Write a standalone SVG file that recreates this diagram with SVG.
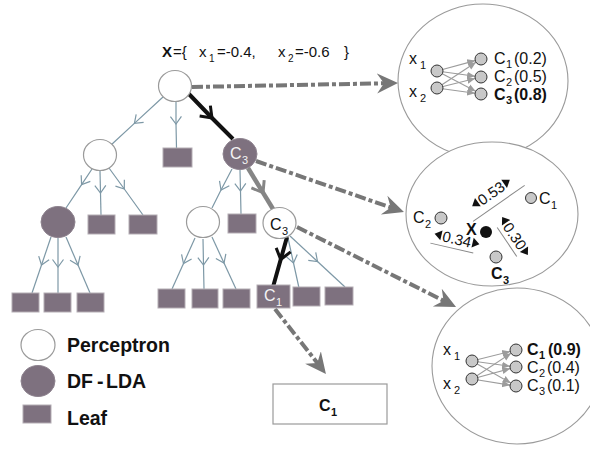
<svg xmlns="http://www.w3.org/2000/svg" width="590" height="449" viewBox="0 0 590 449">
  <style>
    text { font-family: "Liberation Sans", Arial, sans-serif; fill: #111; }
    .b { font-weight: bold; }
    .sub { font-size: 11px; }
    .perc { fill: #fff; stroke: #9a9a9a; stroke-width: 1.2; }
    .lda { fill: #7e717f; stroke: #8e838f; stroke-width: 1; }
    .leaf { fill: #7e717f; stroke: #b4adb4; stroke-width: 1; }
    .edge { fill: none; stroke: #7d98a6; stroke-width: 1.2; marker-mid: url(#chev); }
    .path-blk { fill: none; stroke: #111; stroke-width: 4; marker-mid: url(#chevBlk); }
    .path-gry { fill: none; stroke: #858585; stroke-width: 4.5; marker-mid: url(#chevGry); }
    .dd { fill: none; stroke: #777; stroke-width: 4; stroke-dasharray: 11 3 4 3; marker-end: url(#ddHead); }
    .bubble { fill: #fff; stroke: #9a9a9a; stroke-width: 1.1; }
    .unit { fill: #c8c8c8; stroke: #333; stroke-width: 1; }
    .net { stroke: #9c9c9c; stroke-width: 1.1; fill: none; marker-end: url(#netHead); }
    .dist { stroke: #888; stroke-width: 1; fill: none; }
    .tri { fill: #111; }
    .wt { fill: #f4f4f4; }
  </style>
  <defs>
    <marker id="chev" markerUnits="userSpaceOnUse" viewBox="0 0 20 20" markerWidth="20" markerHeight="20" refX="10" refY="10" orient="auto">
      <path d="M2.5,4.5 L10,10 L2.5,15.5" fill="none" stroke="#7d98a6" stroke-width="1.2"/>
    </marker>
    <marker id="chevBlk" markerUnits="userSpaceOnUse" viewBox="0 0 24 24" markerWidth="24" markerHeight="24" refX="12" refY="12" orient="auto">
      <path d="M2,4.5 L12,12 L2,19.5" fill="none" stroke="#111" stroke-width="3"/>
    </marker>
    <marker id="chevGry" markerUnits="userSpaceOnUse" viewBox="0 0 24 24" markerWidth="24" markerHeight="24" refX="12" refY="12" orient="auto">
      <path d="M2,4.5 L12,12 L2,19.5" fill="none" stroke="#858585" stroke-width="3"/>
    </marker>
    <marker id="ddHead" markerUnits="userSpaceOnUse" viewBox="0 0 26 26" markerWidth="26" markerHeight="26" refX="13" refY="13" orient="auto">
      <path d="M0,3 L21,13 L0,23 L7,13 Z" fill="#777"/>
    </marker>
    <marker id="netHead" markerUnits="userSpaceOnUse" viewBox="0 0 10 10" markerWidth="10" markerHeight="10" refX="8" refY="5" orient="auto">
      <path d="M0,1.5 L8,5 L0,8.5 Z" fill="#9c9c9c"/>
    </marker>
  </defs>

  <!-- input vector -->
  <g id="input-vector">
    <text x="162" y="57" font-size="15" class="b">X</text>
    <text x="173" y="57" font-size="15">={</text>
    <text x="199" y="57" font-size="15">x</text>
    <text x="209" y="62" font-size="10">1</text>
    <text x="217" y="57" font-size="15">=-0.4,</text>
    <text x="278" y="57" font-size="15">x</text>
    <text x="288" y="62" font-size="10">2</text>
    <text x="295" y="57" font-size="15">=-0.6</text>
    <text x="344" y="57" font-size="15">}</text>
  </g>

  <!-- detail bubble: perceptron at the root -->
  <g id="bubble-root">
    <ellipse class="bubble" cx="483" cy="81" rx="85" ry="77"/>
    <path class="net" d="M437,71 L475.2,60.6"/>
    <path class="net" d="M437,71 L475.1,76.2"/>
    <path class="net" d="M437,71 L475.7,91.2"/>
    <path class="net" d="M437,88 L476,62.3"/>
    <path class="net" d="M437,88 L475.2,78.5"/>
    <path class="net" d="M437,88 L475.1,93.2"/>
    <circle class="unit" cx="437" cy="71" r="6"/>
    <circle class="unit" cx="437" cy="88" r="6"/>
    <circle class="unit" cx="481" cy="59" r="6"/>
    <circle class="unit" cx="481" cy="77" r="6"/>
    <circle class="unit" cx="481" cy="94" r="6"/>
    <text x="409" y="64" font-size="16">x</text>
    <text x="420" y="69" class="sub">1</text>
    <text x="409" y="97" font-size="16">x</text>
    <text x="420" y="102" class="sub">2</text>
    <text x="494" y="64" font-size="16">C</text>
    <text x="506" y="68" class="sub">1</text>
    <text x="514" y="64" font-size="16">(0.2)</text>
    <text x="494" y="82" font-size="16">C</text>
    <text x="506" y="86" class="sub">2</text>
    <text x="514" y="82" font-size="16">(0.5)</text>
    <text x="494" y="100" font-size="16" class="b">C</text>
    <text x="506" y="104" class="sub b">3</text>
    <text x="514" y="100" font-size="16" class="b">(0.8)</text>
  </g>

  <!-- detail bubble: DF-LDA distances -->
  <g id="bubble-lda">
    <ellipse class="bubble" cx="492" cy="214" rx="86" ry="72"/>
    <circle class="unit" cx="531" cy="198" r="5.5"/>
    <text x="539" y="204" font-size="16">C</text>
    <text x="551" y="209" class="sub">1</text>
    <circle class="unit" cx="441" cy="218" r="6"/>
    <text x="413" y="223" font-size="16">C</text>
    <text x="425" y="228" class="sub">2</text>
    <circle cx="486" cy="232" r="6" fill="#111"/>
    <text x="466" y="235" font-size="16" class="b">X</text>
    <circle class="unit" cx="496" cy="257" r="6"/>
    <text x="491" y="279" font-size="16" class="b">C</text>
    <text x="503" y="284" class="sub b">3</text>
    <g transform="translate(491,193) rotate(-35)">
      <polygon class="tri" points="-23,0 -16,-5 -16,5"/>
      <text x="0" y="5.5" font-size="15" text-anchor="middle">0.53</text>
      <polygon class="tri" points="23,0 16,-5 16,5"/>
      <line class="dist" x1="-31" y1="13" x2="32" y2="13"/>
    </g>
    <g transform="translate(457,239) rotate(13)">
      <polygon class="tri" points="-23,0 -16,-5 -16,5"/>
      <text x="0" y="5.5" font-size="15" text-anchor="middle">0.34</text>
      <polygon class="tri" points="23,0 16,-5 16,5"/>
      <line class="dist" x1="-25" y1="10" x2="19" y2="10"/>
    </g>
    <g transform="translate(515,236) rotate(56)">
      <polygon class="tri" points="-23,0 -16,-5 -16,5"/>
      <text x="0" y="5.5" font-size="15" text-anchor="middle">0.30</text>
      <polygon class="tri" points="23,0 16,-5 16,5"/>
      <line class="dist" x1="-17" y1="10" x2="18" y2="10"/>
    </g>
  </g>

  <!-- detail bubble: perceptron under C3 -->
  <g id="bubble-c3">
    <ellipse class="bubble" cx="517" cy="366" rx="85" ry="78"/>
    <path class="net" d="M472,361 L510.2,351.5"/>
    <path class="net" d="M472,361 L510.1,366.2"/>
    <path class="net" d="M472,361 L510.8,383"/>
    <path class="net" d="M472,379 L511,353.3"/>
    <path class="net" d="M472,379 L510.2,368.6"/>
    <path class="net" d="M472,379 L510.1,385.1"/>
    <circle class="unit" cx="472" cy="361" r="6"/>
    <circle class="unit" cx="472" cy="379" r="6"/>
    <circle class="unit" cx="516" cy="350" r="6"/>
    <circle class="unit" cx="516" cy="367" r="6"/>
    <circle class="unit" cx="516" cy="386" r="6"/>
    <text x="443" y="355" font-size="16">x</text>
    <text x="454" y="360" class="sub">1</text>
    <text x="443" y="389" font-size="16">x</text>
    <text x="454" y="394" class="sub">2</text>
    <text x="527" y="355" font-size="16" class="b">C</text>
    <text x="539" y="359" class="sub b">1</text>
    <text x="548" y="355" font-size="16" class="b">(0.9)</text>
    <text x="527" y="373" font-size="16">C</text>
    <text x="539" y="377" class="sub">2</text>
    <text x="547" y="373" font-size="16">(0.4)</text>
    <text x="527" y="391" font-size="16">C</text>
    <text x="539" y="395" class="sub">3</text>
    <text x="547" y="391" font-size="16">(0.1)</text>
  </g>

  <!-- tree edges and decision path -->
  <g id="connectors">
    <path class="edge" d="M163,97 L134.4,123.4 L111,145"/>
    <path class="edge" d="M176,102 L176,124 L176.5,148"/>
    <path class="edge" d="M92,169 L81.6,184.6 L66,208"/>
    <path class="edge" d="M100,171 L100.5,193 L101,215"/>
    <path class="edge" d="M109,168 L124.3,189 L143,215"/>
    <path class="edge" d="M51,237 L41.5,265 L32,293"/>
    <path class="edge" d="M58,238 L58,267 L58,293"/>
    <path class="edge" d="M66,237 L78,265 L90,293"/>
    <path class="edge" d="M232,169 L221,190 L212,208"/>
    <path class="edge" d="M240,170 L240.5,191 L241,214"/>
    <path class="edge" d="M195,238 L183.5,263.5 L172,289"/>
    <path class="edge" d="M203,239 L203.5,265 L204,289"/>
    <path class="edge" d="M212,237 L224,263 L236,289"/>
    <path class="edge" d="M288,238 L293.5,263 L299,288"/>
    <path class="edge" d="M290,236 L317.5,261.5 L345,287"/>
    <path class="path-blk" d="M188,93 L212,118 L233,139"/>
    <path class="path-gry" d="M248,168 L263,192.6 L273,209"/>
    <path class="path-blk" d="M287,237 L280.7,259.5 L273,287"/>
    <path class="dd" d="M192,87 L390,83.2"/>
    <path class="dd" d="M256,161 L396.4,209.4"/>
    <path class="dd" d="M297,227 L448.9,303.4"/>
    <path class="dd" d="M275,309 L321,367.7"/>
  </g>

  <!-- tree nodes -->
  <g id="root"><ellipse class="perc" cx="175" cy="86" rx="16.5" ry="15.5"/></g>
  <g id="n-left"><ellipse class="perc" cx="100" cy="155" rx="16.5" ry="15.5"/></g>
  <g id="leaf-root"><rect class="leaf" x="163" y="148" width="29" height="19"/></g>
  <g id="n-c3-lda">
    <ellipse class="lda" cx="240" cy="154" rx="17" ry="15.5"/>
    <text x="230" y="159" font-size="16" class="wt">C</text>
    <text x="242" y="164" class="sub wt">3</text>
  </g>
  <g id="n-lda-left"><ellipse class="lda" cx="58" cy="222" rx="17" ry="15.5"/></g>
  <g id="leaf-l1"><rect class="leaf" x="88" y="215" width="27" height="19"/></g>
  <g id="leaf-l2"><rect class="leaf" x="129" y="215" width="28" height="19"/></g>
  <g id="leaf-ll1"><rect class="leaf" x="12" y="293" width="27" height="19"/></g>
  <g id="leaf-ll2"><rect class="leaf" x="44" y="293" width="27" height="19"/></g>
  <g id="leaf-ll3"><rect class="leaf" x="77" y="293" width="27" height="19"/></g>
  <g id="n-mid"><ellipse class="perc" cx="203" cy="222" rx="16.5" ry="15.5"/></g>
  <g id="leaf-m"><rect class="leaf" x="228" y="214" width="28" height="19"/></g>
  <g id="n-c3-perc">
    <ellipse class="perc" cx="279.5" cy="223" rx="16.5" ry="15.5"/>
    <text x="270" y="230" font-size="16">C</text>
    <text x="282" y="235" class="sub">3</text>
  </g>
  <g id="leaf-m1"><rect class="leaf" x="158" y="289" width="27" height="19"/></g>
  <g id="leaf-m2"><rect class="leaf" x="192" y="289" width="26" height="19"/></g>
  <g id="leaf-m3"><rect class="leaf" x="223" y="289" width="27" height="19"/></g>
  <g id="leaf-c1">
    <rect class="leaf" x="257" y="285" width="33" height="23"/>
    <text x="264" y="301" font-size="16" class="wt">C</text>
    <text x="276" y="306" class="sub wt">1</text>
  </g>
  <g id="leaf-r1"><rect class="leaf" x="293" y="287" width="27" height="19"/></g>
  <g id="leaf-r2"><rect class="leaf" x="325" y="287" width="28" height="18"/></g>

  <!-- final decision -->
  <g id="result">
    <rect x="273" y="384" width="114" height="40" fill="#fff" stroke="#9a9a9a" stroke-width="1.2"/>
    <text x="319" y="411" font-size="16" class="b">C</text>
    <text x="331" y="416" class="sub b">1</text>
  </g>

  <!-- legend -->
  <g id="legend">
    <ellipse class="perc" cx="38" cy="345" rx="17" ry="15.5"/>
    <text x="67" y="352" font-size="19.5" class="b">Perceptron</text>
    <ellipse class="lda" cx="38" cy="381" rx="17" ry="15.5"/>
    <text x="67" y="388" font-size="19.5" class="b">DF</text>
    <text x="97" y="388" font-size="19.5" class="b">-</text>
    <text x="106" y="388" font-size="19.5" class="b">LDA</text>
    <rect class="leaf" x="23" y="405" width="28" height="18"/>
    <text x="67" y="425" font-size="19.5" class="b">Leaf</text>
  </g>
</svg>
